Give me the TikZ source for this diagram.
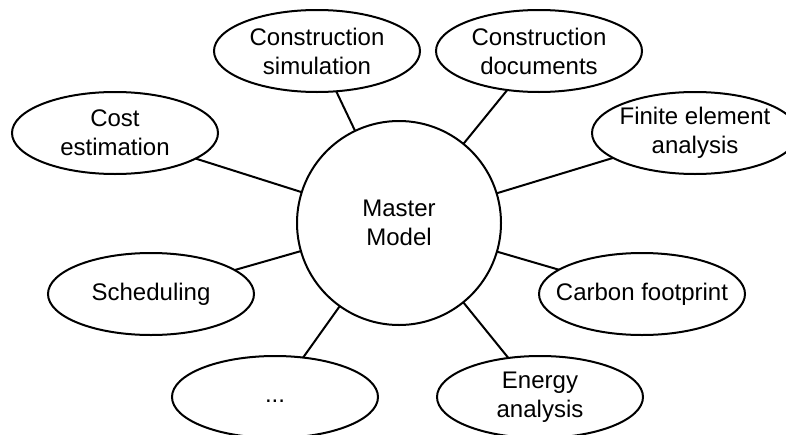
\documentclass[tikz,border=0pt]{standalone}
\usepackage{fontspec}
\setmainfont{Liberation Sans}
\usetikzlibrary{shapes.geometric}
\begin{document}
\begin{tikzpicture}[x=1pt,y=-1pt,
  every node/.style={font=\fontsize{24}{29}\selectfont, align=center, text=black},
  topic/.style={ellipse, draw, line width=2pt, minimum width=206pt, minimum height=82pt,
    inner xsep=-80pt, inner ysep=-20pt, outer sep=0pt, fill=white},
  hub/.style={circle, draw, line width=2pt, minimum size=204pt, inner sep=0pt, outer sep=0pt, fill=white},
  link/.style={line width=2pt}]
\useasboundingbox (0,0) rectangle (786,434);
\clip (0,0) rectangle (786,434);
\node[hub] (M) at (399,223) {Master\\Model};
\node[topic] (sim) at (317,51) {Construction\\simulation};
\node[topic] (doc) at (539,51) {Construction\\documents};
\node[topic] (cost) at (115,133) {Cost\\estimation};
\node[topic] (fea) at (695,133) {Finite element\\analysis};
\node[topic] (sch) at (151,294) {Scheduling};
\node[topic] (car) at (642,294) {Carbon footprint};
\node[topic] (dots) at (275,397) {\vphantom{Sg}...};
\node[topic] (ene) at (540,397) {Energy\\analysis};
\foreach \t in {sim,doc,cost,fea,sch,car,dots,ene}
  \draw[link] (M) -- (\t);
\end{tikzpicture}
\end{document}
